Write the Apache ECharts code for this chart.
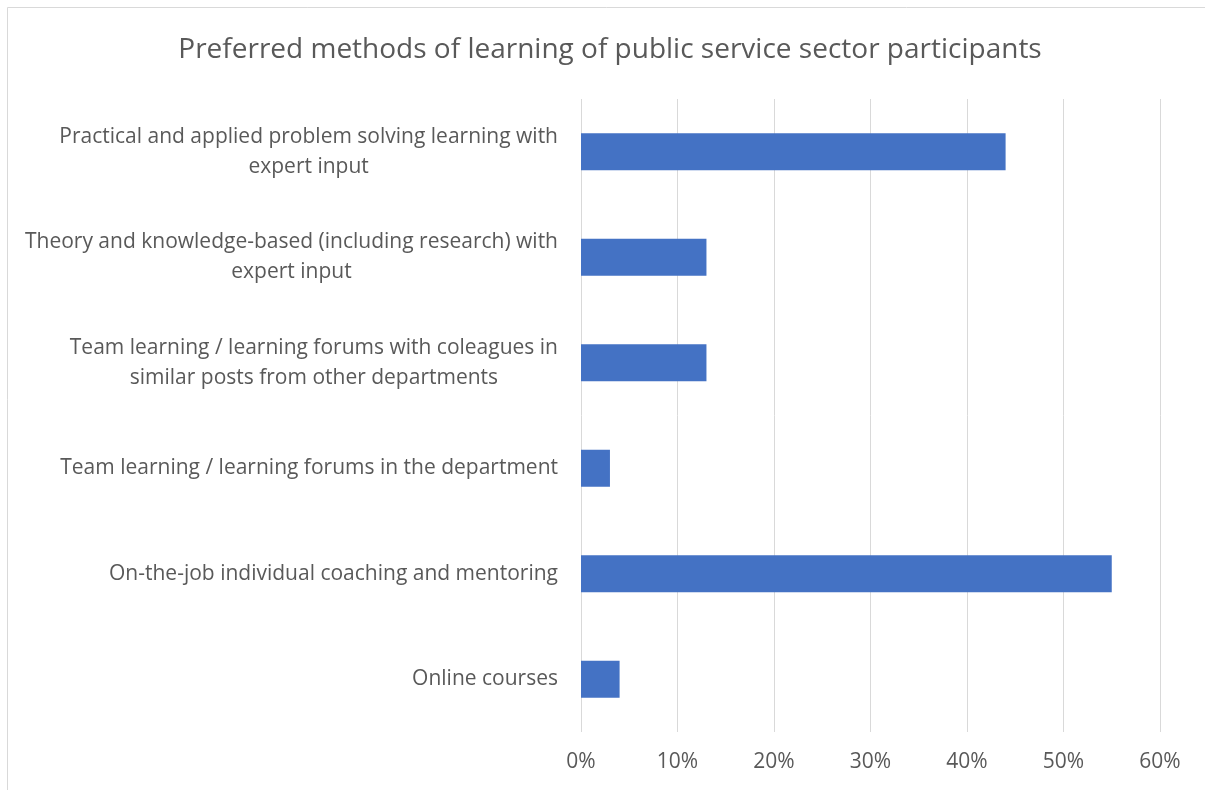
<!DOCTYPE html>
<html>
<head>
<meta charset="utf-8">
<script src="https://cdn.jsdelivr.net/npm/echarts@6/dist/echarts.min.js"></script>
<style>
html,body{margin:0;padding:0;background:#fff;}
#chart{width:1205px;height:790px;}
</style>
</head>
<body>
<div id="chart"></div>
<script>
var titleText = 'Preferred methods of learning of public service sector participants';
var categories = [
  'Practical and applied problem solving learning with\nexpert input',
  'Theory and knowledge-based (including research) with\nexpert input',
  'Team learning / learning forums with coleagues in\nsimilar posts from other departments',
  'Team learning / learning forums in the department',
  'On-the-job individual coaching and mentoring',
  'Online courses'
];
var values = [44, 13, 13, 3, 55, 4];
var axisMin = 0, axisMax = 60, axisStep = 10;

var FONT = '"Open Sans", sans-serif';
var TXT = '#595959';
var chart = echarts.init(document.getElementById('chart'), null, {renderer: 'canvas'});
chart.setOption({
  backgroundColor: '#ffffff',
  animation: false,
  title: {
    text: titleText,
    left: 605, top: 31, textAlign: 'center',
    textStyle: {fontFamily: FONT, fontSize: 28, fontWeight: 'normal', color: TXT}
  },
  graphic: [{
    type: 'rect', silent: true,
    shape: {x: 7.5, y: 7.5, width: 1400, height: 1000},
    style: {fill: 'none', stroke: '#d9d9d9', lineWidth: 1}
  }],
  grid: {left: 581, right: 45, top: 99, bottom: 58, containLabel: false},
  xAxis: {
    type: 'value', min: axisMin, max: axisMax, interval: axisStep,
    axisLine: {show: false}, axisTick: {show: false},
    splitLine: {show: true, lineStyle: {color: '#d9d9d9', width: 1}},
    axisLabel: {formatter: '{value}%', color: TXT, fontFamily: FONT, fontSize: 21, margin: 20}
  },
  yAxis: {
    type: 'category', data: categories, inverse: true,
    axisLine: {show: false}, axisTick: {show: false},
    axisLabel: {
      align: 'right', margin: 23, color: TXT, fontFamily: FONT, fontSize: 21,
      formatter: function (v) {
        return v.split('\n').map(function (l) { return '{c|' + l + '}'; }).join('\n');
      },
      rich: {c: {align: 'center', color: TXT, fontFamily: FONT, fontSize: 21, lineHeight: 30}}
    }
  },
  series: [{
    type: 'bar', data: values, barCategoryGap: '65%',
    itemStyle: {color: '#4472C4'}
  }]
});
</script>
</body>
</html>
